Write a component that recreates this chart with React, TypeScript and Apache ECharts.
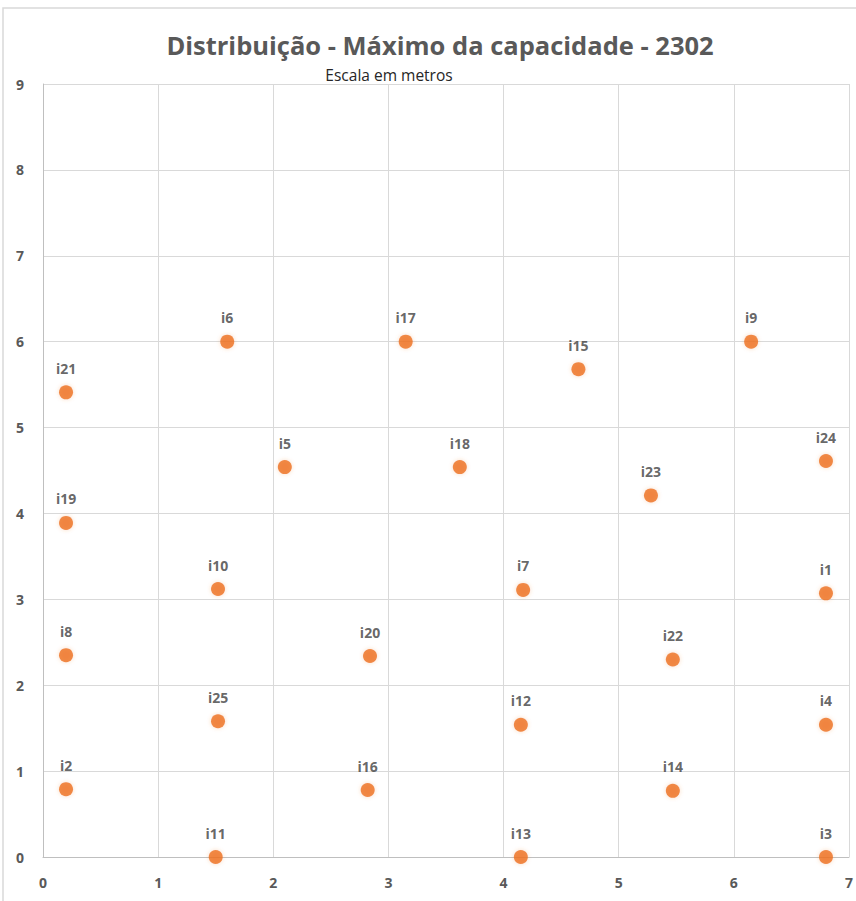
import React, { useEffect, useRef } from "react";
import * as echarts from "echarts";

const names = ["i1","i2","i3","i4","i5","i6","i7","i8","i9","i10","i11","i12","i13","i14","i15","i16","i17","i18","i19","i20","i21","i22","i23","i24","i25"];
const xs = [6.8, 0.2, 6.8, 6.8, 2.1, 1.6, 4.17, 0.2, 6.15, 1.52, 1.5, 4.15, 4.15, 5.47, 4.65, 2.82, 3.15, 3.62, 0.2, 2.84, 0.2, 5.47, 5.28, 6.8, 1.52];
const ys = [3.07, 0.79, 0, 1.54, 4.54, 6.0, 3.11, 2.35, 6.0, 3.12, 0, 1.54, 0, 0.77, 5.68, 0.78, 6.0, 4.54, 3.89, 2.34, 5.41, 2.3, 4.21, 4.61, 1.58];
const xTicks = [0, 1, 2, 3, 4, 5, 6, 7];
const yTicks = [0, 1, 2, 3, 4, 5, 6, 7, 8, 9];
const titleText = "Distribuição - Máximo da capacidade - 2302";
const subtitleText = "Escala em metros";

export default function App() {
  const ref = useRef<HTMLDivElement>(null);
  useEffect(() => {
    if (!ref.current) return;
    const chart = echarts.init(ref.current, null, { renderer: "svg" });
    const data = names.map((n, i) => ({ name: n, value: [xs[i], ys[i]] }));
    chart.setOption({
      animation: false,
      backgroundColor: "#ffffff",
      textStyle: { fontFamily: "Open Sans" },
      graphic: [
        {
          type: "rect",
          shape: { x: 3, y: 8, width: 900, height: 950 },
          style: { fill: "none", stroke: "#d9d9d9", lineWidth: 1.5 },
          silent: true,
          z: -1,
        },
        {
          type: "text",
          x: 440,
          y: 45,
          style: {
            text: titleText,
            fontFamily: "Open Sans",
            fontSize: 25.5,
            fontWeight: "bold",
            fill: "#595959",
            textAlign: "center",
            textVerticalAlign: "middle",
          },
        },
        {
          type: "text",
          x: 389,
          y: 75,
          style: {
            text: subtitleText,
            fontFamily: "Open Sans",
            fontSize: 15.5,
            fill: "#262626",
            textAlign: "center",
            textVerticalAlign: "middle",
          },
        },
      ],
      grid: { left: 43, right: 6, top: 84, bottom: 44, containLabel: false },
      xAxis: {
        type: "value",
        min: xTicks[0],
        max: xTicks[xTicks.length - 1],
        interval: 1,
        axisLine: { show: true, lineStyle: { color: "#bfbfbf", width: 1 } },
        axisTick: { show: false },
        splitLine: { show: true, lineStyle: { color: "#d9d9d9", width: 1 } },
        axisLabel: { color: "#595959", fontSize: 14, fontWeight: "bold", margin: 18, fontFamily: "Open Sans" },
      },
      yAxis: {
        type: "value",
        min: yTicks[0],
        max: yTicks[yTicks.length - 1],
        interval: 1,
        axisLine: { show: true, lineStyle: { color: "#bfbfbf", width: 1 } },
        axisTick: { show: false },
        splitLine: { show: true, lineStyle: { color: "#d9d9d9", width: 1 } },
        axisLabel: { color: "#595959", fontSize: 14, fontWeight: "bold", margin: 19, fontFamily: "Open Sans" },
      },
      series: [
        {
          type: "scatter",
          data,
          symbol: "circle",
          symbolSize: 14,
          itemStyle: { color: "#EE6F1E", shadowColor: "rgba(237,125,49,0.35)", shadowBlur: 4 },
          label: {
            show: true,
            position: "top",
            distance: 10,
            formatter: (p: any) => p.name,
            color: "#404040",
            fontSize: 14,
            fontWeight: "bold",
            fontFamily: "Open Sans",
          },
          clip: false,
        },
      ],
    });
    return () => chart.dispose();
  }, []);
  return <div ref={ref} style={{ position: "absolute", left: 0, top: 0, width: 856, height: 901 }} />;
}
